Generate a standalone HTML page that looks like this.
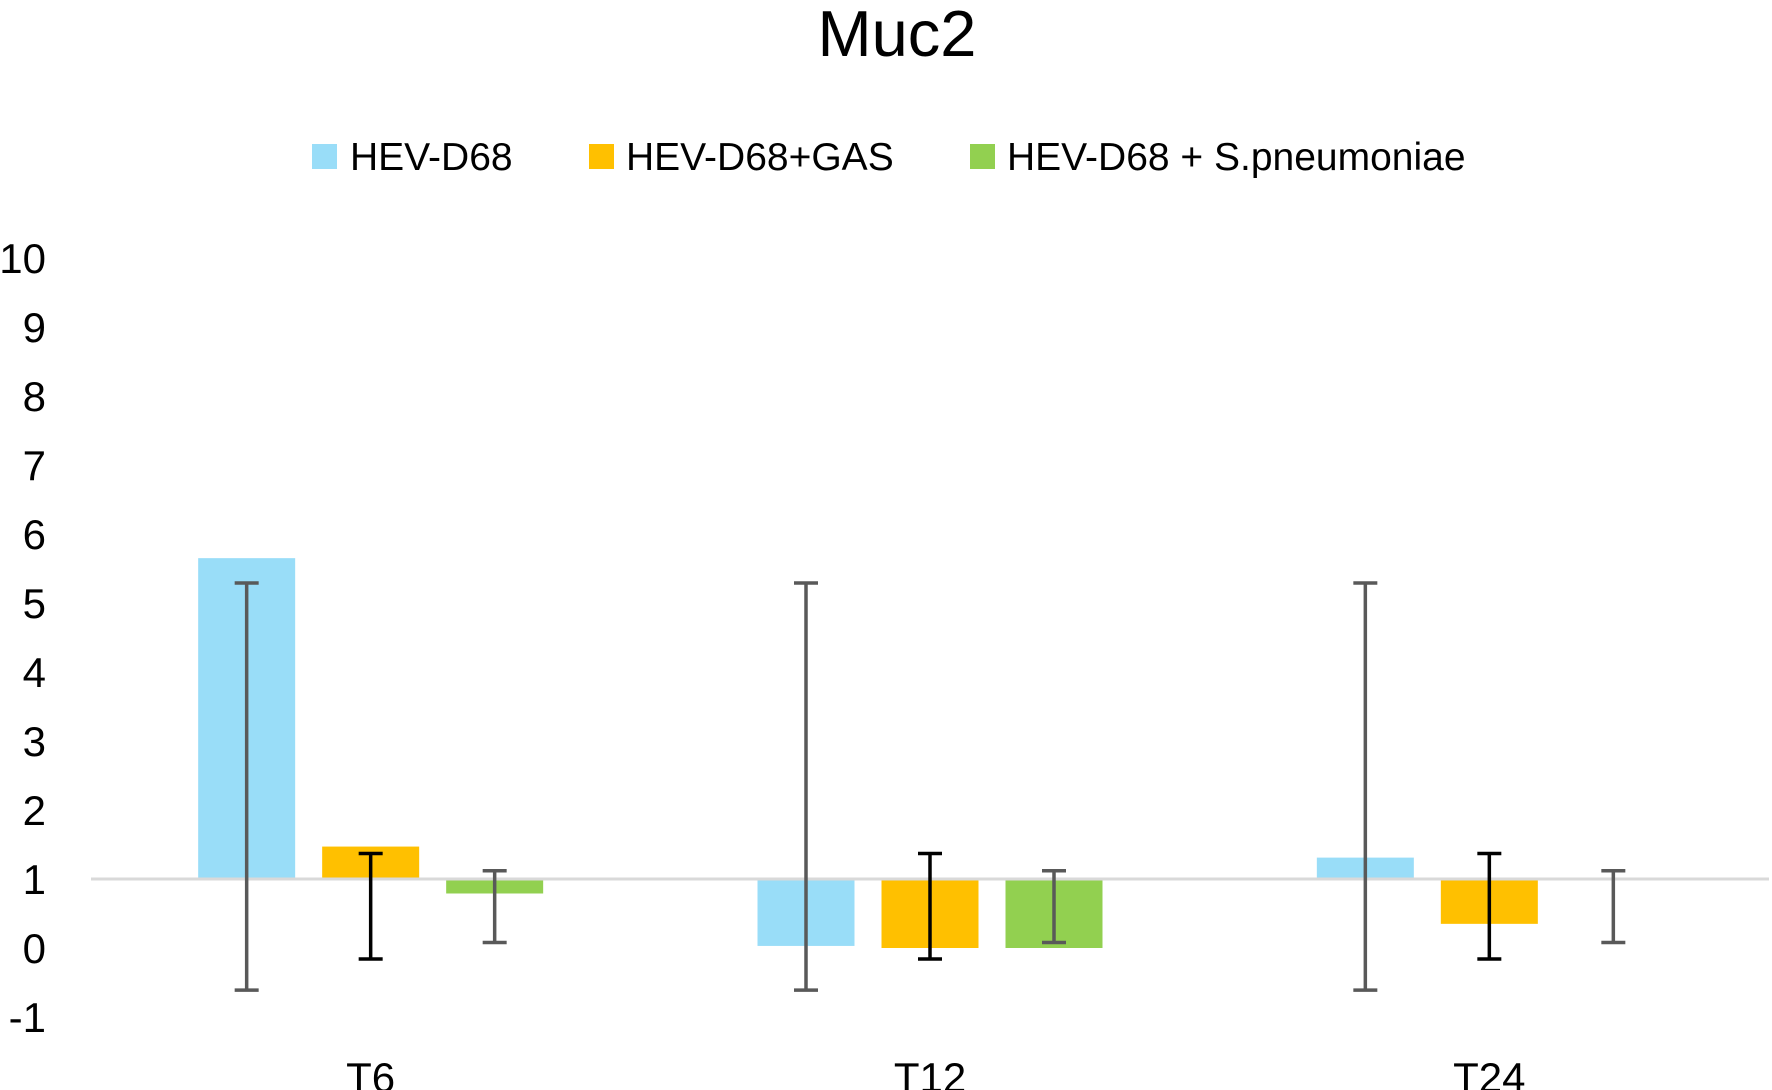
<!DOCTYPE html>
<html><head><meta charset="utf-8"><style>
html,body{margin:0;padding:0;background:#fff;}
svg{display:block;font-family:"Liberation Sans",sans-serif;}
</style></head><body>
<svg id="chart" width="1772" height="1090" viewBox="0 0 1772 1090" xmlns="http://www.w3.org/2000/svg">
<text x="897" y="56" font-size="65" text-anchor="middle" fill="#000">Muc2</text>
<g>
<rect x="312" y="144" width="25" height="25" fill="#99DDF8"/>
<text x="350" y="170" font-size="39">HEV-D68</text>
<rect x="589" y="144" width="25" height="25" fill="#FFC000"/>
<text x="626" y="170" font-size="39">HEV-D68+GAS</text>
<rect x="970" y="144" width="25" height="25" fill="#92D050"/>
<text x="1007" y="170" font-size="39">HEV-D68 + S.pneumoniae</text>
</g>
<g id="yaxis"></g>
<g id="bars"></g>
<g id="xaxis"></g>
</svg>
<script>
const categories = ["T6", "T12", "T24"];
const seriesNames = ["HEV-D68", "HEV-D68+GAS", "HEV-D68 + S.pneumoniae"];
const hevD68 = [5.65, 0.03, 1.31];
const hevD68Gas = [1.47, 0.0, 0.35];
const hevD68Spn = [0.79, 0.0, 1.0];
const errHighBlue = [5.29, 5.29, 5.29];
const errLowBlue = [-0.61, -0.61, -0.61];
const errHighOrange = [1.37, 1.37, 1.37];
const errLowOrange = [-0.16, -0.16, -0.16];
const errHighGreen = [1.12, 1.12, 1.12];
const errLowGreen = [0.08, 0.08, 0.08];
const yTicks = [-1, 0, 1, 2, 3, 4, 5, 6, 7, 8, 9, 10];
const baselineValue = 1;

const NS = "http://www.w3.org/2000/svg";
const plotLeft = 91, plotRight = 1769;
const yTop = 258, yBottom = 1017, yMax = 10, yMin = -1;
function yScale(v){ return yTop + (yMax - v) * (yBottom - yTop) / (yMax - yMin); }
const catW = (plotRight - plotLeft) / categories.length;
function xCenter(i){ return plotLeft + catW * (i + 0.5); }
const barW = 97, barStep = 124;
function mk(tag, attrs, parent){ const e = document.createElementNS(NS, tag); for (const k in attrs) e.setAttribute(k, attrs[k]); parent.appendChild(e); return e; }

const yaxis = document.getElementById('yaxis');
yTicks.forEach(t => {
  const e = mk('text', {x: 46, y: yScale(t) + 15, 'font-size': 42, 'text-anchor': 'end', fill: '#000'}, yaxis);
  
  
  e.textContent = t;
});

const bars = document.getElementById('bars');
const series = [
  {vals: hevD68, hi: errHighBlue, lo: errLowBlue, color: '#99DDF8', ec: '#595959', key: 'hev-d68'},
  {vals: hevD68Gas, hi: errHighOrange, lo: errLowOrange, color: '#FFC000', ec: '#000000', key: 'hev-d68-gas'},
  {vals: hevD68Spn, hi: errHighGreen, lo: errLowGreen, color: '#92D050', ec: '#595959', key: 'hev-d68-spn'}
];
const yb = yScale(baselineValue);
series.forEach((s, si) => {
  s.vals.forEach((v, ci) => {
    const cx = xCenter(ci) + (si - 1) * barStep;
    const y1 = yScale(v);
    const r = mk('rect', {x: cx - barW/2, y: Math.min(y1, yb), width: barW, height: Math.abs(y1 - yb), fill: s.color}, bars);
    
    
  });
});
const base = mk('line', {x1: plotLeft, x2: plotRight, y1: yb, y2: yb, stroke: '#D9D9D9', 'stroke-width': 3}, bars);


series.forEach((s, si) => {
  s.vals.forEach((v, ci) => {
    const cx = xCenter(ci) + (si - 1) * barStep;
    const g = mk('g', {stroke: s.ec, 'stroke-width': 3.5}, bars);
    
    
    const a = yScale(s.hi[ci]), b = yScale(s.lo[ci]);
    mk('line', {x1: cx, x2: cx, y1: a, y2: b}, g);
    mk('line', {x1: cx - 12, x2: cx + 12, y1: a, y2: a}, g);
    mk('line', {x1: cx - 12, x2: cx + 12, y1: b, y2: b}, g);
  });
});

const xaxis = document.getElementById('xaxis');
categories.forEach((c, i) => {
  const e = mk('text', {x: xCenter(i), y: 1092, 'font-size': 42, 'text-anchor': 'middle', fill: '#000'}, xaxis);
  
  
  e.textContent = c;
});
</script>
</body></html>
